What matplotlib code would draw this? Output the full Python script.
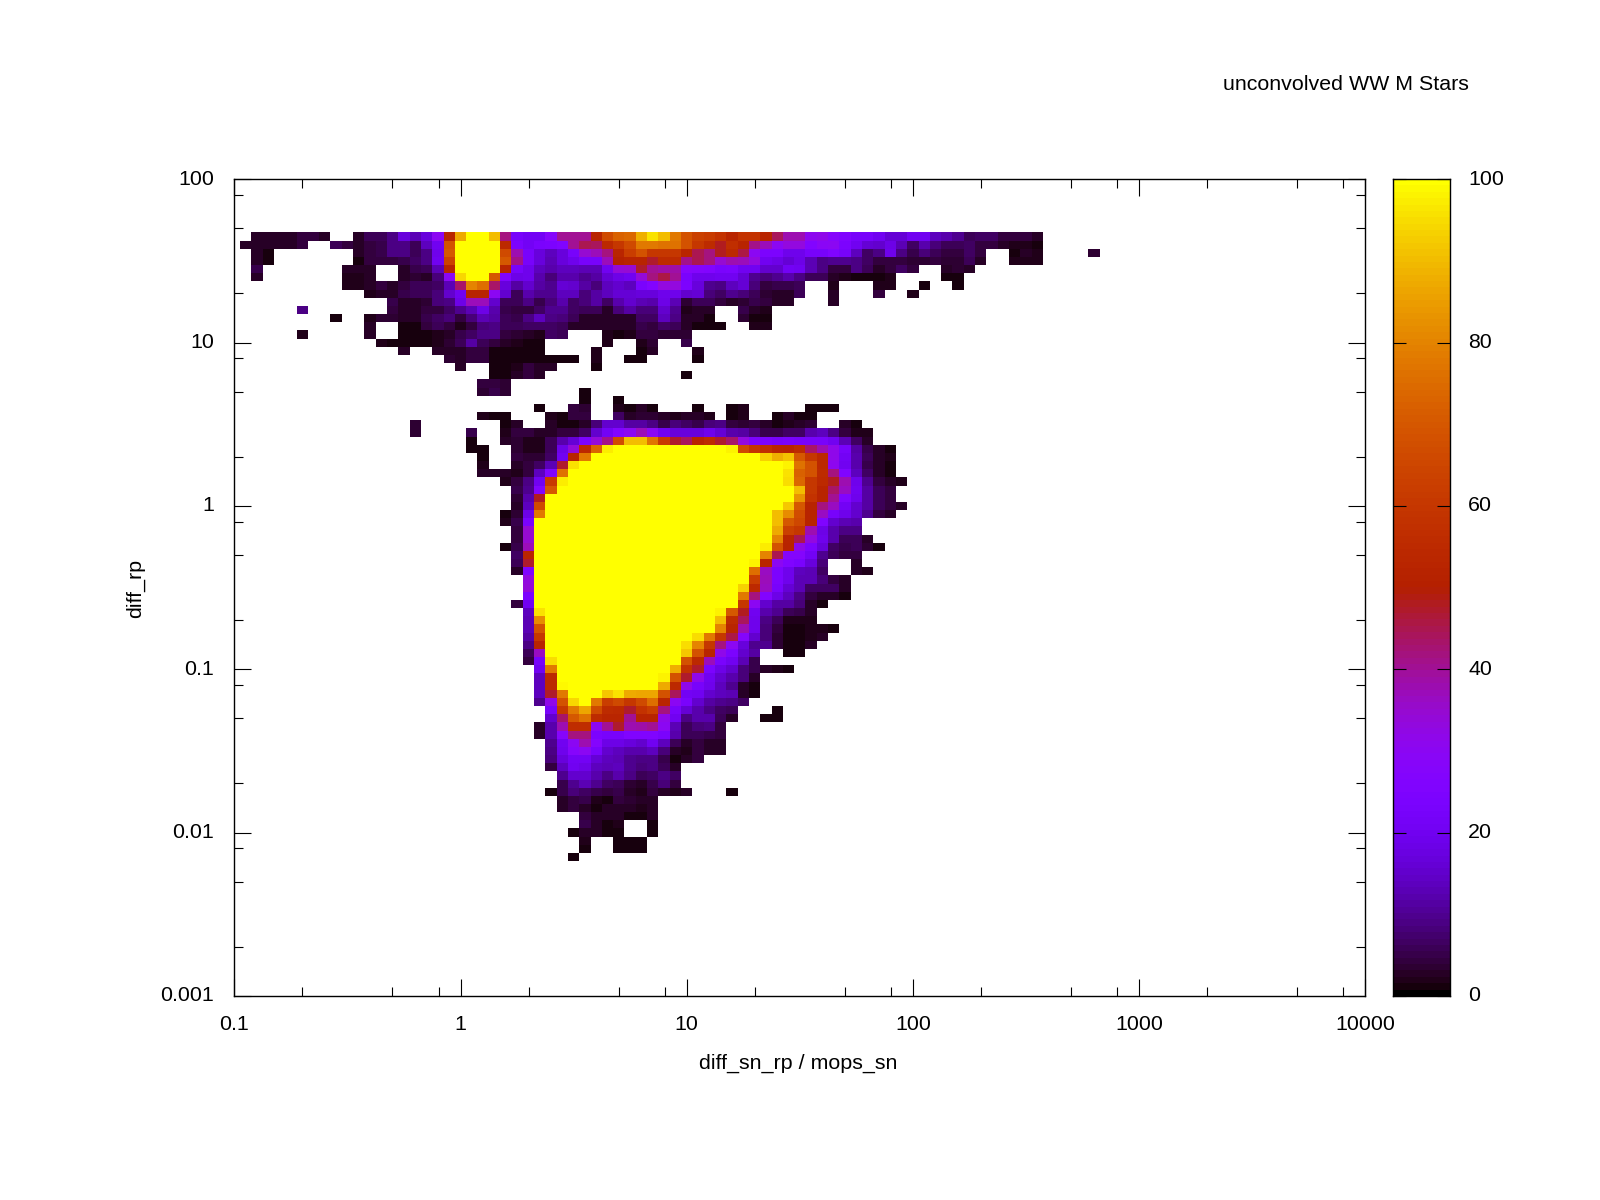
import numpy as np
import matplotlib
matplotlib.use("Agg")
import matplotlib.pyplot as plt
from matplotlib.colors import ListedColormap
from matplotlib.ticker import FixedLocator, NullFormatter
from matplotlib.transforms import ScaledTranslation

plt.rcParams['font.family'] = ['Liberation Sans', 'DejaVu Sans']

x_ticks = [0.1, 1, 10, 100, 1000, 10000]
x_labels = ['0.1', '1', '10', '100', '1000', '10000']
y_ticks = [0.001, 0.01, 0.1, 1, 10, 100]
y_labels = ['0.001', '0.01', '0.1', '1', '10', '100']
cb_ticks = [0, 20, 40, 60, 80, 100]

# each row of the 2d histogram: (first x bin, values), row number counts down from y=100
row_07 = [(2, [3, 3, 2.5, 2.5, 4, 4, 2.5]), (11, [3, 6, 6, 9, 17, 13, 17, 30, 53, 87, 100, 100, 90, 42, 22, 21, 21, 28, 40, 40, 40, 52, 66, 72, 74, 88, 96, 90, 78, 68, 63, 61, 58, 53, 58, 58, 52, 44, 38, 38, 31, 32, 28, 25, 22, 22, 20, 16, 16, 20, 20, 14, 12, 10, 5.5, 7, 7, 4, 4, 4, 3])]
row_08 = [(1, [3, 3, 3, 3, 2.5, 4]), (9, [6, 4, 3, 4.5, 5, 9, 9, 6, 14, 20, 68, 100, 100, 100, 100, 54, 24, 21, 23, 24, 25, 40, 45, 44, 54, 60, 66, 78, 78, 76, 76, 68, 60, 55, 48, 57, 52, 41, 37, 30, 33, 33, 26, 29, 30, 24, 20, 16, 15, 18, 13, 7, 12, 8, 6, 6, 7, 4, 4, 2.5, 2, 2, 1.5])]
row_09 = [(2, [3, 1.5]), (11, [2.5, 4, 5, 9, 9, 6, 9, 19, 70, 100, 100, 100, 100, 66, 38, 22, 17, 14, 17, 22, 35, 37, 42, 53, 62, 68, 60, 60, 60, 53, 45, 42, 48, 54, 46, 30, 24, 24, 19, 19, 22, 22, 25, 22, 14, 7, 9, 19, 9, 5, 8, 6, 4.5, 4.5, 6.5, 4]), (69, [1.5, 2.5, 2]), (76, [3.5])]
row_10 = [(2, [3, 1.5]), (11, [1.5, 4, 4.5, 4.5, 5, 7, 9, 20, 64, 100, 100, 100, 100, 70, 41, 22, 17, 13, 17, 19, 22, 22, 37, 50, 52, 52, 47, 55, 55, 41, 45, 42, 35, 38, 37, 33, 20, 18, 16, 18, 13, 9, 10, 10, 9, 7, 4, 4, 4.5, 3.5, 3.5, 4.5, 3.5, 3.5, 5.5, 3]), (69, [2, 2, 2])]
row_11 = [(2, [5]), (10, [3, 3, 2.5]), (15, [3, 5, 6, 13, 52, 100, 100, 100, 100, 53, 22, 19, 14, 12, 14, 14, 13, 13, 20, 34, 35, 47, 40, 39, 39, 28, 27, 26, 23, 24, 20, 20, 15, 15, 21, 20, 13, 9, 4, 4.5, 9, 6, 2.5, 4, 6.5, 4]), (63, [2.5, 3.5, 3])]
row_12 = [(2, [3]), (10, [2, 2, 3]), (15, [3, 3.5, 3, 8, 30, 94, 100, 100, 70, 25, 18, 19, 12, 8, 12, 12, 10, 11, 16, 18, 20, 34, 42, 46, 40, 23, 19, 19, 20, 20, 16, 10, 8, 10, 12, 9, 6, 6, 3, 2, 1.5, 1.5, 1, 2]), (63, [1.5, 1])]
row_13 = [(10, [2, 2, 3, 4, 2.5, 4, 5.5, 5.5, 7, 13, 43, 80, 75, 43, 17, 11, 15, 11, 10, 16, 15, 11, 8, 14, 15, 14, 23, 26, 33, 33, 24, 17, 10, 9, 14, 16, 8, 4, 5, 5, 6]), (53, [2]), (57, [2, 2]), (61, [1.5]), (64, [1])]
row_14 = [(12, [2, 2.5, 3, 5, 6, 6, 8, 15, 20, 52, 52, 30, 15, 6, 12, 10, 10, 14, 14, 8, 11, 14, 16, 16, 17, 17, 19, 19, 15, 16, 8, 7, 10, 8, 6, 3.5, 2.5, 3, 6]), (53, [3]), (57, [4.5]), (60, [2])]
row_15 = [(14, [5, 2.5, 2.5, 3.5, 8, 9, 18, 37, 37, 15, 6, 6, 9, 5, 8, 12, 7, 8, 11, 7, 12, 15, 13, 12, 18, 13, 3.5, 6, 6, 4, 3, 3.5, 5, 4, 3, 2.5]), (53, [3])]
row_16 = [(6, [9]), (14, [4.5, 3, 2.5, 4, 4.5, 6.5, 10, 13, 18, 12, 5, 4, 4, 7, 10, 10, 7, 6, 6, 3, 8, 11, 8, 8, 15, 10, 2, 2.5, 2.5]), (45, [5, 3, 2])]
row_17 = [(9, [1]), (12, [2, 3.5, 3.5, 2.5, 3, 5, 7, 8, 4.5, 8, 13, 11, 6, 5, 9, 14, 9, 8, 6, 3, 3, 3, 3, 3, 7, 7, 14, 9, 2.5, 2.5, 1.5]), (45, [3.5, 1.5, 1.5])]
row_18 = [(12, [3]), (15, [1.5, 1.5, 4.5, 6, 4.5, 2, 4, 8, 9, 6, 6, 7, 7, 7, 6, 2.5, 2.5, 2.5, 2.5, 2.5, 3, 5, 4, 7, 6, 2.5, 1, 1, 0.9]), (46, [2, 2])]
row_19 = [(6, [2]), (12, [3]), (15, [1, 0.9, 1.5, 2, 3, 5, 7, 9, 9, 4, 3.5, 3, 2, 7, 6]), (33, [2, 1.5, 2, 4, 4, 3.5, 3.5, 3.5])]
row_20 = [(13, [2, 1.5, 1, 0.9, 0.9, 2, 3.5, 6, 11, 6, 4, 3, 2, 1.2, 1.2]), (33, [2]), (36, [2, 3.5]), (40, [5])]
row_21 = [(15, [3]), (18, [2.5, 3, 2.5, 4, 4, 1, 1, 1.5, 0.9, 0.9]), (32, [2]), (36, [1.5, 2.5]), (41, [2])]
row_22 = [(19, [3.5, 3, 4, 4, 0.9, 1, 1.5, 1, 0.9, 0.9, 1.2, 1.2]), (32, [2]), (35, [1.5, 0.9]), (41, [0.9])]
row_23 = [(20, [2.5]), (23, [0.9, 1, 2, 4, 3, 2.5]), (32, [1])]
row_24 = [(23, [0.9, 0.9, 2.5, 4, 3]), (40, [1])]
row_25 = [(22, [4, 4.5, 3.5])]
row_26 = [(22, [3.5, 5, 3.5]), (31, [0.9])]
row_27 = [(31, [0.9]), (34, [1.5])]
row_28 = [(27, [0.9]), (30, [4, 3.5]), (34, [2, 1.5, 2.5, 1.5]), (41, [1.5]), (44, [1.5, 2]), (51, [1.5, 1.5, 1.2])]
row_29 = [(22, [2, 1.5, 1]), (28, [2, 1.5, 4, 4]), (34, [7, 3, 3.5, 3.5, 3, 2, 2.5, 2.5, 2]), (44, [1.5, 2]), (48, [1.5, 2.5, 1.5, 1.5])]
row_30 = [(16, [3.5]), (24, [1.5, 3]), (28, [2.5, 1.5, 1.5, 2.5, 8, 15, 15, 11, 11, 9, 5, 8, 7, 5, 8, 9, 4, 3.5, 4, 3, 1.5, 2, 2.5, 3.5]), (54, [3, 1.2])]
row_31 = [(16, [3.5]), (21, [5]), (24, [2, 4, 4.5, 2.5, 3, 4, 4.5, 7, 15, 21, 26, 30, 37, 30, 20, 17, 17, 17, 19, 16, 12, 11, 8, 5, 5, 6.5, 7, 12, 14, 9, 4, 2, 2])]
row_32 = [(21, [1.5]), (24, [3, 3.5, 2, 2, 6, 12, 16, 24, 34, 41, 67, 90, 90, 77, 61, 47, 44, 52, 55, 47, 43, 33, 24, 24, 22, 23, 22, 22, 22, 20, 13, 7, 3])]
row_33 = [(21, [1.5, 1]), (25, [3.5, 2, 2, 6, 18, 34, 54, 73, 97] + [100] * 10 + [98, 66, 59, 57, 53, 52, 55, 43, 38, 32, 22, 11, 5, 3, 1.5])]
row_34 = [(22, [1]), (25, [4, 3.5, 3.5, 7, 20, 52, 78] + [100] * 15 + [93, 88, 91, 70, 60, 54, 32, 21, 12, 5.5, 3, 2])]
row_35 = [(22, [2]), (25, [2.5, 4, 7, 13, 47, 96] + [100] * 18 + [98, 76, 68, 54, 31, 20, 12, 5, 2.5, 1.5])]
row_36 = [(22, [3, 3, 3, 2, 4, 14, 25, 76] + [100] * 19 + [96, 72, 68, 55, 42, 25, 14, 7, 2.5, 1.5])]
row_37 = [(24, [2, 4, 9, 20, 61, 97] + [100] * 19 + [95, 74, 60, 54, 48, 38, 19, 10, 4, 2.5, 2])]
row_38 = [(25, [5, 10, 26, 70] + [100] * 21 + [90, 60, 52, 43, 36, 20, 11, 6, 4])]
row_39 = [(25, [3.5, 12, 48] + [100] * 22 + [83, 58, 52, 40, 25, 19, 11, 6, 4.5])]
row_40 = [(25, [2.5, 14, 66] + [100] * 21 + [92, 70, 52, 42, 36, 21, 15, 11, 6, 4, 3])]
row_41 = [(24, [1, 3.5, 18, 78] + [100] * 20 + [90, 82, 67, 52, 36, 22, 19, 15, 10, 4, 3])]
row_42 = [(24, [2, 5, 23] + [100] * 21 + [90, 70, 65, 52, 25, 15, 13, 12])]
row_43 = [(25, [4, 35] + [100] * 21 + [87, 63, 60, 38, 18, 12, 9, 9])]
row_44 = [(25, [4, 35] + [100] * 21 + [80, 53, 45, 33, 19, 12, 6, 6, 3])]
row_45 = [(24, [1, 5, 37] + [100] * 20 + [97, 68, 52, 32, 24, 17, 7, 5, 6, 3.5, 1])]
row_46 = [(25, [7, 53] + [100] * 20 + [80, 45, 27, 27, 21, 10, 6, 4, 4])]
row_47 = [(25, [6, 47] + [100] * 19 + [98, 53, 30, 25, 23, 17, 8]), (55, [3])]
row_48 = [(25, [2.5, 25] + [100] * 19 + [75, 36, 24, 19, 14, 13, 7]), (55, [2.5, 2])]
row_49 = [(26, [33] + [100] * 19 + [62, 37, 24, 19, 13, 13, 8, 4, 2.5])]
row_50 = [(26, [34] + [100] * 18 + [93, 54, 36, 22, 16, 13, 7, 7, 7, 2.5])]
row_51 = [(26, [24] + [100] * 18 + [78, 42, 26, 18, 14, 9, 4, 3, 2.5, 1])]
row_52 = [(25, [4, 20] + [100] * 18 + [60, 30, 15, 11, 11, 8, 2.5, 0.9])]
row_53 = [(26, [14, 96] + [100] * 15 + [98, 70, 48, 20, 12, 10, 5.5, 5, 3])]
row_54 = [(26, [13, 82] + [100] * 15 + [90, 55, 44, 19, 9, 6, 2, 2, 2])]
row_55 = [(26, [13, 68] + [100] * 15 + [80, 53, 38, 19, 8, 4, 1.5, 1.2, 2, 2, 0.9])]
row_56 = [(26, [11, 60] + [100] * 13 + [95, 78, 60, 46, 27, 15, 8, 3.5, 0.9, 1, 2, 3])]
row_57 = [(26, [9, 52] + [100] * 12 + [95, 80, 60, 42, 30, 17, 10, 10, 3.5, 1.5, 1.5, 2.5])]
row_58 = [(26, [5.5, 36] + [100] * 12 + [92, 68, 53, 32, 24, 15, 11]), (49, [1.5, 1.5])]
row_59 = [(26, [4, 22, 95] + [100] * 11 + [68, 54, 37, 23, 20, 13, 5])]
row_60 = [(27, [20, 78] + [100] * 10 + [88, 58, 47, 24, 18, 15, 8.5, 5, 2.5, 2, 1.5])]
row_61 = [(27, [14, 54] + [100] * 9 + [98, 68, 47, 32, 20, 15, 12, 8, 3])]
row_62 = [(27, [14, 54, 99] + [100] * 8 + [87, 54, 32, 22, 19, 14, 10, 3, 1.5])]
row_63 = [(27, [14, 47, 78, 100, 100, 100, 92, 96, 87, 86, 86, 68, 44, 21, 20, 15, 14, 13, 3, 1])]
row_64 = [(27, [10, 32, 68, 94, 100, 78, 62, 66, 60, 66, 75, 53, 30, 23, 15, 11, 10, 9, 7])]
row_65 = [(28, [22, 60, 78, 86, 66, 55, 54, 47, 58, 62, 42, 22, 16, 12, 9, 7, 6]), (48, [0.9])]
row_66 = [(28, [15, 43, 70, 76, 55, 53, 53, 40, 52, 52, 32, 20, 9, 12, 12, 6, 2.5]), (47, [1.5, 1])]
row_67 = [(27, [3, 12, 38, 56, 56, 30, 40, 47, 38, 39, 40, 30, 13, 6, 8, 9, 4])]
row_68 = [(27, [3, 12, 28, 42, 42, 24, 22, 22, 25, 25, 25, 23, 12, 6, 6, 5, 4.5])]
row_69 = [(28, [10, 20, 30, 38, 27, 18, 18, 17, 15, 20, 14, 6, 3, 4, 3, 3])]
row_70 = [(28, [9, 19, 28, 30, 22, 15, 14, 12, 12, 14, 8, 3, 2, 4, 2.5, 2.5])]
row_71 = [(28, [8, 17, 21, 21, 16, 14, 13, 10, 9, 9, 5, 1.2, 2.5, 4])]
row_72 = [(28, [4.5, 14, 20, 18, 14, 13, 14, 10, 8, 9, 6, 3])]
row_73 = [(29, [10, 15, 15, 12, 9, 12, 9, 6, 7, 9, 7])]
row_74 = [(29, [5, 10, 13, 10, 7, 6, 3.5, 3, 5, 8, 4.5])]
row_75 = [(28, [1, 5, 8, 7, 5, 4, 5, 3, 2, 4, 2.5, 1.8, 3]), (44, [1])]
row_76 = [(29, [2.5, 4, 5, 2, 1.5, 4, 3.5, 2.5, 2.5])]
row_77 = [(29, [3, 4, 3, 1.5, 3, 3, 2.5, 2, 2.5])]
row_78 = [(31, [4, 3, 3, 3, 1.5, 1.5, 2.5])]
row_79 = [(31, [5, 3, 1.5, 2]), (37, [1.5])]
row_80 = [(30, [1.5, 2.5, 2.5, 0.9, 1]), (37, [1.5])]
row_81 = [(31, [2]), (34, [0.9, 1.2, 1.2])]
row_82 = [(31, [1.5]), (34, [1, 1, 0.9])]
row_83 = [(30, [1.5])]

rows = {
    7: row_07, 8: row_08, 9: row_09, 10: row_10, 11: row_11, 12: row_12, 13: row_13, 14: row_14,
    15: row_15, 16: row_16, 17: row_17, 18: row_18, 19: row_19, 20: row_20, 21: row_21, 22: row_22,
    23: row_23, 24: row_24, 25: row_25, 26: row_26, 27: row_27, 28: row_28, 29: row_29, 30: row_30,
    31: row_31, 32: row_32, 33: row_33, 34: row_34, 35: row_35, 36: row_36, 37: row_37, 38: row_38,
    39: row_39, 40: row_40, 41: row_41, 42: row_42, 43: row_43, 44: row_44, 45: row_45, 46: row_46,
    47: row_47, 48: row_48, 49: row_49, 50: row_50, 51: row_51, 52: row_52, 53: row_53, 54: row_54,
    55: row_55, 56: row_56, 57: row_57, 58: row_58, 59: row_59, 60: row_60, 61: row_61, 62: row_62,
    63: row_63, 64: row_64, 65: row_65, 66: row_66, 67: row_67, 68: row_68, 69: row_69, 70: row_70,
    71: row_71, 72: row_72, 73: row_73, 74: row_74, 75: row_75, 76: row_76, 77: row_77, 78: row_78,
    79: row_79, 80: row_80, 81: row_81, 82: row_82, 83: row_83,
}

grid = np.full((101, 101), np.nan)
for k, runs in rows.items():
    for first, values in runs:
        grid[k, first:first + len(values)] = values
grid = np.ma.masked_invalid(grid)

# bins are 20 per decade, centred on the bin value
x_edges = 10.0 ** (-1 + (np.arange(102) - 0.5) / 20)
y_edges = 10.0 ** (2 - (np.arange(102) - 0.5) / 20)

# gnuplot default palette (rgbformulae 7,5,15), 128 levels
t = np.linspace(0, 1, 128)
palette = np.column_stack([np.sqrt(t), t ** 3, np.clip(np.sin(2 * np.pi * t), 0, 1)])
cmap = ListedColormap(palette)

W, H = 1600, 1200
FS = 15.4
fig = plt.figure(figsize=(16, 12), dpi=100)
ax = fig.add_axes([234.3 / W, 1 - 995.9 / H, 1131 / W, 816.6 / H])
mesh = ax.pcolormesh(x_edges, y_edges, grid, cmap=cmap, vmin=0, vmax=100, antialiased=False, linewidth=0)
ax.set_xscale('log')
ax.set_yscale('log')
ax.set_xlim(0.1, 10000)
ax.set_ylim(0.001, 100)

minor_x = [m * 10.0 ** e for e in range(-1, 4) for m in (2, 5, 8)]
minor_y = [m * 10.0 ** e for e in range(-3, 2) for m in (2, 5, 8)]
ax.xaxis.set_major_locator(FixedLocator(x_ticks))
ax.yaxis.set_major_locator(FixedLocator(y_ticks))
ax.xaxis.set_minor_locator(FixedLocator(minor_x))
ax.yaxis.set_minor_locator(FixedLocator(minor_y))
ax.xaxis.set_minor_formatter(NullFormatter())
ax.yaxis.set_minor_formatter(NullFormatter())
ax.set_xticklabels(x_labels)
ax.set_yticklabels(y_labels)
ax.tick_params(which='major', direction='in', length=12.5, width=0.8, top=True, right=True, labelsize=FS)
ax.tick_params(which='minor', direction='in', length=6.5, width=0.8, top=True, right=True)
ax.tick_params(axis='x', which='major', pad=14)
ax.tick_params(axis='y', which='major', pad=14.5)
for s in ax.spines.values():
    s.set_linewidth(1.0)

# labels sit a little above the tick in the original
up = ScaledTranslation(0, 0.02, fig.dpi_scale_trans)
for lab in ax.get_yticklabels():
    lab.set_transform(lab.get_transform() + up)

fig.text(798 / W, 1 - 1063 / H, 'diff_sn_rp / mops_sn', ha='center', va='center', fontsize=FS)
fig.text(136 / W, 1 - 588 / H, 'diff_rp', ha='center', va='center', rotation=90, fontsize=FS)
fig.text(1469 / W, 1 - 84.5 / H, 'unconvolved WW M Stars', ha='right', va='center', fontsize=FS)

cax = fig.add_axes([1393.3 / W, 1 - 995.9 / H, 57 / W, 816.6 / H])
cax.imshow(t[::-1].reshape(-1, 1), cmap=cmap, aspect='auto', extent=[0, 1, 0, 100], vmin=0, vmax=1, interpolation='nearest')
cax.set_xticks([])
cax.yaxis.tick_right()
cax.set_yticks(cb_ticks)
cax.tick_params(axis='y', direction='in', length=9.1, width=0.8, left=True, right=True, labelsize=FS, pad=13)
for s in cax.spines.values():
    s.set_linewidth(1.0)
for lab in cax.get_yticklabels():
    lab.set_transform(lab.get_transform() + up)

fig.savefig('out.png', dpi=100)
